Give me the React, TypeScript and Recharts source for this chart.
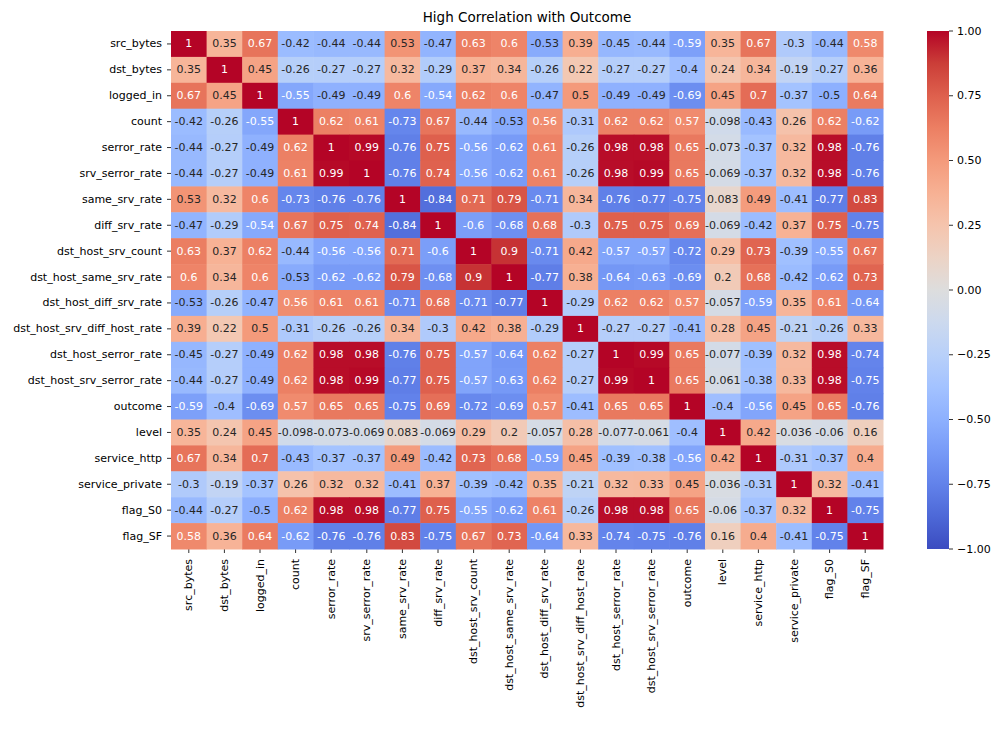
import { Scatter, ScatterChart, XAxis, YAxis } from "recharts";

const features = [
  "src_bytes",
  "dst_bytes",
  "logged_in",
  "count",
  "serror_rate",
  "srv_serror_rate",
  "same_srv_rate",
  "diff_srv_rate",
  "dst_host_srv_count",
  "dst_host_same_srv_rate",
  "dst_host_diff_srv_rate",
  "dst_host_srv_diff_host_rate",
  "dst_host_serror_rate",
  "dst_host_srv_serror_rate",
  "outcome",
  "level",
  "service_http",
  "service_private",
  "flag_S0",
  "flag_SF",
];

// one correlation row per feature, same order as the columns
const srcBytes = [1, 0.35, 0.67, -0.42, -0.44, -0.44, 0.53, -0.47, 0.63, 0.6, -0.53, 0.39, -0.45, -0.44, -0.59, 0.35, 0.67, -0.3, -0.44, 0.58];
const dstBytes = [0.35, 1, 0.45, -0.26, -0.27, -0.27, 0.32, -0.29, 0.37, 0.34, -0.26, 0.22, -0.27, -0.27, -0.4, 0.24, 0.34, -0.19, -0.27, 0.36];
const loggedIn = [0.67, 0.45, 1, -0.55, -0.49, -0.49, 0.6, -0.54, 0.62, 0.6, -0.47, 0.5, -0.49, -0.49, -0.69, 0.45, 0.7, -0.37, -0.5, 0.64];
const count = [-0.42, -0.26, -0.55, 1, 0.62, 0.61, -0.73, 0.67, -0.44, -0.53, 0.56, -0.31, 0.62, 0.62, 0.57, -0.098, -0.43, 0.26, 0.62, -0.62];
const serrorRate = [-0.44, -0.27, -0.49, 0.62, 1, 0.99, -0.76, 0.75, -0.56, -0.62, 0.61, -0.26, 0.98, 0.98, 0.65, -0.073, -0.37, 0.32, 0.98, -0.76];
const srvSerrorRate = [-0.44, -0.27, -0.49, 0.61, 0.99, 1, -0.76, 0.74, -0.56, -0.62, 0.61, -0.26, 0.98, 0.99, 0.65, -0.069, -0.37, 0.32, 0.98, -0.76];
const sameSrvRate = [0.53, 0.32, 0.6, -0.73, -0.76, -0.76, 1, -0.84, 0.71, 0.79, -0.71, 0.34, -0.76, -0.77, -0.75, 0.083, 0.49, -0.41, -0.77, 0.83];
const diffSrvRate = [-0.47, -0.29, -0.54, 0.67, 0.75, 0.74, -0.84, 1, -0.6, -0.68, 0.68, -0.3, 0.75, 0.75, 0.69, -0.069, -0.42, 0.37, 0.75, -0.75];
const dstHostSrvCount = [0.63, 0.37, 0.62, -0.44, -0.56, -0.56, 0.71, -0.6, 1, 0.9, -0.71, 0.42, -0.57, -0.57, -0.72, 0.29, 0.73, -0.39, -0.55, 0.67];
const dstHostSameSrvRate = [0.6, 0.34, 0.6, -0.53, -0.62, -0.62, 0.79, -0.68, 0.9, 1, -0.77, 0.38, -0.64, -0.63, -0.69, 0.2, 0.68, -0.42, -0.62, 0.73];
const dstHostDiffSrvRate = [-0.53, -0.26, -0.47, 0.56, 0.61, 0.61, -0.71, 0.68, -0.71, -0.77, 1, -0.29, 0.62, 0.62, 0.57, -0.057, -0.59, 0.35, 0.61, -0.64];
const dstHostSrvDiffHostRate = [0.39, 0.22, 0.5, -0.31, -0.26, -0.26, 0.34, -0.3, 0.42, 0.38, -0.29, 1, -0.27, -0.27, -0.41, 0.28, 0.45, -0.21, -0.26, 0.33];
const dstHostSerrorRate = [-0.45, -0.27, -0.49, 0.62, 0.98, 0.98, -0.76, 0.75, -0.57, -0.64, 0.62, -0.27, 1, 0.99, 0.65, -0.077, -0.39, 0.32, 0.98, -0.74];
const dstHostSrvSerrorRate = [-0.44, -0.27, -0.49, 0.62, 0.98, 0.99, -0.77, 0.75, -0.57, -0.63, 0.62, -0.27, 0.99, 1, 0.65, -0.061, -0.38, 0.33, 0.98, -0.75];
const outcome = [-0.59, -0.4, -0.69, 0.57, 0.65, 0.65, -0.75, 0.69, -0.72, -0.69, 0.57, -0.41, 0.65, 0.65, 1, -0.4, -0.56, 0.45, 0.65, -0.76];
const level = [0.35, 0.24, 0.45, -0.098, -0.073, -0.069, 0.083, -0.069, 0.29, 0.2, -0.057, 0.28, -0.077, -0.061, -0.4, 1, 0.42, -0.036, -0.06, 0.16];
const serviceHttp = [0.67, 0.34, 0.7, -0.43, -0.37, -0.37, 0.49, -0.42, 0.73, 0.68, -0.59, 0.45, -0.39, -0.38, -0.56, 0.42, 1, -0.31, -0.37, 0.4];
const servicePrivate = [-0.3, -0.19, -0.37, 0.26, 0.32, 0.32, -0.41, 0.37, -0.39, -0.42, 0.35, -0.21, 0.32, 0.33, 0.45, -0.036, -0.31, 1, 0.32, -0.41];
const flagS0 = [-0.44, -0.27, -0.5, 0.62, 0.98, 0.98, -0.77, 0.75, -0.55, -0.62, 0.61, -0.26, 0.98, 0.98, 0.65, -0.06, -0.37, 0.32, 1, -0.75];
const flagSF = [0.58, 0.36, 0.64, -0.62, -0.76, -0.76, 0.83, -0.75, 0.67, 0.73, -0.64, 0.33, -0.74, -0.75, -0.76, 0.16, 0.4, -0.41, -0.75, 1];

const rows = [
  srcBytes, dstBytes, loggedIn, count, serrorRate, srvSerrorRate, sameSrvRate,
  diffSrvRate, dstHostSrvCount, dstHostSameSrvRate, dstHostDiffSrvRate,
  dstHostSrvDiffHostRate, dstHostSerrorRate, dstHostSrvSerrorRate, outcome,
  level, serviceHttp, servicePrivate, flagS0, flagSF,
];

const colorbarTicks = [1, 0.75, 0.5, 0.25, 0, -0.25, -0.5, -0.75, -1];

// coolwarm diverging map, sampled every 1/16
const COOLWARM: [number, number, number][] = [
  [59, 76, 192], [77, 104, 215], [98, 130, 234], [119, 154, 247],
  [141, 176, 254], [163, 194, 255], [184, 208, 249], [204, 217, 238],
  [221, 221, 221], [236, 211, 197], [245, 196, 173], [247, 177, 148],
  [244, 154, 123], [236, 127, 99], [222, 96, 77], [203, 62, 56],
  [180, 4, 38],
];

const rgbAt = (v: number): [number, number, number] => {
  const t = Math.min(1, Math.max(0, (v + 1) / 2)) * (COOLWARM.length - 1);
  const i = Math.min(COOLWARM.length - 2, Math.floor(t));
  const f = t - i;
  const a = COOLWARM[i];
  const b = COOLWARM[i + 1];
  return [0, 1, 2].map((k) => Math.round(a[k] + (b[k] - a[k]) * f)) as [number, number, number];
};

const toCss = (c: number[]) => `rgb(${c[0]},${c[1]},${c[2]})`;

// dark text on light cells, white on dark ones
const textColorFor = (c: number[]) => {
  const lin = c.map((x) => {
    const s = x / 255;
    return s <= 0.03928 ? s / 12.92 : Math.pow((s + 0.055) / 1.055, 2.4);
  });
  const lum = 0.2126 * lin[0] + 0.7152 * lin[1] + 0.0722 * lin[2];
  return lum > 0.408 ? "#262626" : "#ffffff";
};

const cells = rows.flatMap((row, r) => row.map((v, c) => ({ x: c, y: r, v })));
const idx = features.map((_, i) => i);

const FONT = "DejaVu Sans";
const LEFT = 171;
const TOP = 31;
const RIGHT = 883;
const BOTTOM = 549;
const CELL_W = (RIGHT - LEFT) / features.length;
const CELL_H = (BOTTOM - TOP) / features.length;

const HeatCell = (props: any) => {
  const { cx, cy, payload } = props;
  const rgb = rgbAt(payload.v);
  return (
    <g>
      <rect
        x={cx - CELL_W / 2}
        y={cy - CELL_H / 2}
        width={CELL_W + 0.5}
        height={CELL_H + 0.5}
        fill={toCss(rgb)}
      />
      <text
        x={cx}
        y={cy}
        textAnchor="middle"
        dominantBaseline="central"
        fontFamily={FONT}
        fontSize={11}
        fill={textColorFor(rgb)}
      >
        {String(payload.v)}
      </text>
    </g>
  );
};

const XTick = ({ x, y, payload }: any) => (
  <g transform={`translate(${x},${y})`}>
    <text
      transform="rotate(-90)"
      textAnchor="end"
      dominantBaseline="central"
      fontFamily={FONT}
      fontSize={11}
      fill="#000"
    >
      {features[payload.value]}
    </text>
  </g>
);

const YTick = ({ x, y, payload }: any) => (
  <text
    x={x}
    y={y}
    textAnchor="end"
    dominantBaseline="central"
    fontFamily={FONT}
    fontSize={11}
    fill="#000"
  >
    {features[payload.value]}
  </text>
);

const CB_X = 927;
const CB_W = 22;
const cbY = (v: number) => TOP + ((1 - v) / 2) * (BOTTOM - TOP);

const App = () => {
  return (
    <div style={{ position: "absolute", left: 0, top: 0, width: 1000, height: 750, background: "#fff" }}>
      <ScatterChart
        width={1000}
        height={750}
        margin={{ top: TOP, right: 1000 - RIGHT, bottom: 0, left: 0 }}
      >
        <XAxis
          type="number"
          dataKey="x"
          domain={[-0.5, features.length - 0.5]}
          ticks={idx}
          interval={0}
          height={750 - BOTTOM}
          axisLine={false}
          tickLine={{ stroke: "#333" }}
          tickSize={4}
          tickMargin={6}
          tick={<XTick />}
        />
        <YAxis
          type="number"
          dataKey="y"
          reversed
          domain={[-0.5, features.length - 0.5]}
          ticks={idx}
          interval={0}
          width={LEFT}
          axisLine={false}
          tickLine={{ stroke: "#333" }}
          tickSize={4}
          tickMargin={5}
          tick={<YTick />}
        />
        <Scatter data={cells} shape={HeatCell} isAnimationActive={false} />
      </ScatterChart>

      <svg
        width={1000}
        height={750}
        style={{ position: "absolute", left: 0, top: 0, pointerEvents: "none" }}
      >
        <text
          x={(LEFT + RIGHT) / 2}
          y={17}
          textAnchor="middle"
          dominantBaseline="central"
          fontFamily={FONT}
          fontSize={13.5}
          fill="#000"
        >
          High Correlation with Outcome
        </text>

        <defs>
          <linearGradient id="cbar" x1="0" y1="1" x2="0" y2="0">
            {COOLWARM.map((c, i) => (
              <stop key={i} offset={i / (COOLWARM.length - 1)} stopColor={toCss(c)} />
            ))}
          </linearGradient>
        </defs>
        <rect x={CB_X} y={TOP} width={CB_W} height={BOTTOM - TOP} fill="url(#cbar)" />
        {colorbarTicks.map((v) => (
          <g key={v}>
            <line x1={CB_X + CB_W} x2={CB_X + CB_W + 4} y1={cbY(v)} y2={cbY(v)} stroke="#333" />
            <text
              x={CB_X + CB_W + 8}
              y={cbY(v)}
              dominantBaseline="central"
              fontFamily={FONT}
              fontSize={11}
              fill="#000"
            >
              {v.toFixed(2).replace("-", "\u2212")}
            </text>
          </g>
        ))}
      </svg>
    </div>
  );
};

export default App;
